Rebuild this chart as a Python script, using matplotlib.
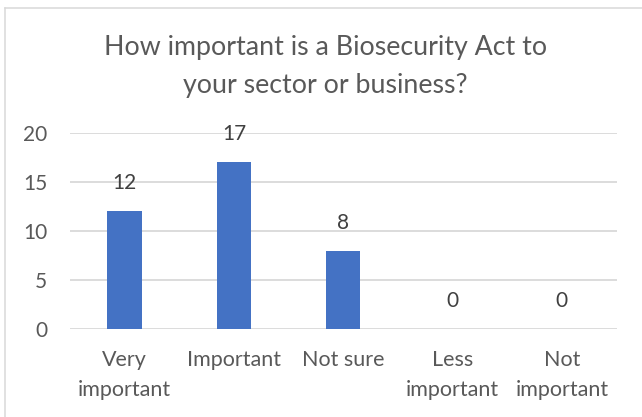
import matplotlib
matplotlib.use("Agg")
import matplotlib.pyplot as plt
from matplotlib.lines import Line2D

categories = ["Very\nimportant", "Important", "Not sure", "Less\nimportant", "Not\nimportant"]
values = [12, 17, 8, 0, 0]
yticks = [0, 5, 10, 15, 20]
title_lines = ["How important is a Biosecurity Act to", "your sector or business?"]

text_color = "#595959"
label_color = "#404040"
bar_color = "#4472C4"
grid_color = "#D9D9D9"
frame_color = "#D9D9D9"

plt.rcParams["font.family"] = ["Lato", "DejaVu Sans"]

W, H = 642, 417
fig = plt.figure(figsize=(W / 100, H / 100), dpi=100)

# chart area frame (top and left edges)
fig.add_artist(Line2D([5.5 / W, 5.5 / W], [0, 1 - 7.5 / H], transform=fig.transFigure,
                      color=frame_color, linewidth=1.1))
fig.add_artist(Line2D([5.5 / W, 1], [1 - 7.5 / H, 1 - 7.5 / H], transform=fig.transFigure,
                      color=frame_color, linewidth=1.1))

ax = fig.add_axes([70 / W, (H - 329.3) / H, 546.5 / W, 196.6 / H])
x = list(range(len(categories)))
ax.bar(x, values, width=0.315, color=bar_color, zorder=3)
for xi, v in zip(x, values):
    ax.annotate(str(v), (xi, v), xytext=(0, 13), textcoords="offset points",
                ha="center", va="bottom", fontsize=15, color=label_color)

ax.set_xlim(-0.5, len(categories) - 0.5)
ax.set_ylim(0, 20)
ax.set_yticks(yticks)
ax.set_xticks(x)
ax.set_xticklabels(categories, fontsize=15.5, color=text_color, linespacing=1.6)
ax.tick_params(axis="y", labelsize=15, labelcolor=text_color, length=0, pad=16.5)
ax.tick_params(axis="x", length=0, pad=15)
ax.yaxis.grid(True, color=grid_color, linewidth=1.3, zorder=0)
for s in ax.spines.values():
    s.set_visible(False)

for line, baseline in zip(title_lines, [55, 93]):
    fig.text(325.5 / W, 1 - baseline / H, line, ha="center", va="baseline",
             fontsize=19.3, color=text_color)

fig.savefig("out.png", dpi=100)
